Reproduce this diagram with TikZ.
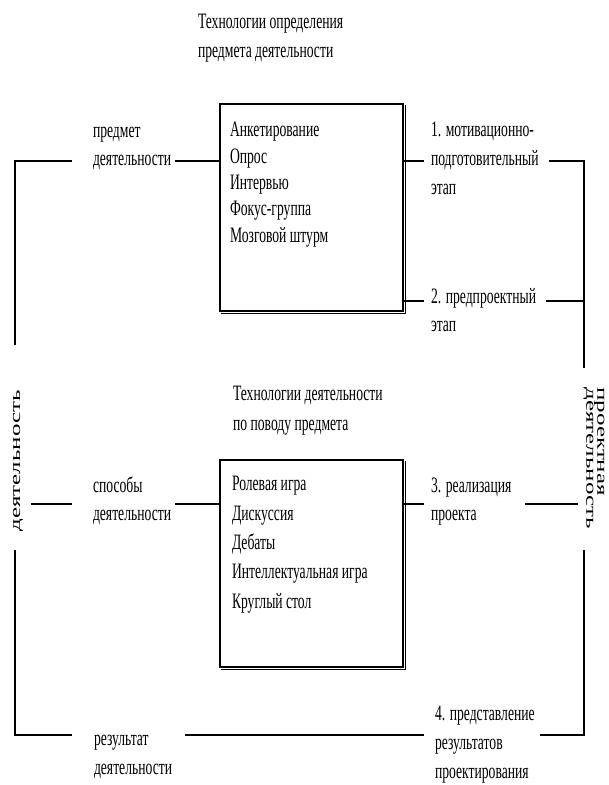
\documentclass[tikz,border=0pt]{standalone}
\usepackage{fontspec}
\usepackage{graphicx}
\setmainfont{Liberation Serif}[FakeStretch=0.62]
\newfontfamily\sidefont{Liberation Serif}
\begin{document}
\begin{tikzpicture}[x=1pt, y=-1pt, line width=2pt,
    txt/.style={anchor=base west, inner sep=0pt, align=left, font=\fontsize{22}{28}\selectfont},
    techbox/.style={draw, anchor=north west, minimum width=183pt, minimum height=207pt, inner sep=0pt},
    side/.style={inner sep=0pt, align=left, font=\sidefont\fontsize{25}{11}\selectfont}]
    \useasboundingbox (0,0) rectangle (609,785);
    % titles over the boxes (anchored at the last line)
    \node[txt, font=\fontsize{22}{29}\selectfont] (title1) at (197,57) {Технологии определения\\предмета деятельности};
    \node[txt, font=\fontsize{22}{30}\selectfont] (title2) at (232,430) {Технологии деятельности\\ по поводу предмета};
    % the two boxes, with a heavier lower right edge
    \node[techbox] (box1) at (219,103) {};
    \node[techbox] (box2) at (219,459) {};
    \foreach \b in {box1,box2}
        \draw[line width=1.5pt] ([shift={(1.5pt,-1.5pt)}]\b.south west) -- ([shift={(1.5pt,-1.5pt)}]\b.south east) -- ([shift={(1.5pt,-1.5pt)}]\b.north east);
    \node[txt, font=\fontsize{22}{26.3}\selectfont] (list1) at (229,242) {Анкетирование\\Опрос\\Интервью\\Фокус-группа\\Мозговой штурм};
    \node[txt, font=\fontsize{22}{29.3}\selectfont] (list2) at (231,608) {Ролевая игра\\Дискуссия\\Дебаты\\Интеллектуальная игра\\Круглый стол};
    % left labels
    \node[txt] (pred) at (92,165) {предмет\\деятельности};
    \node[txt] (sposob) at (92,520) {способы\\деятельности};
    \node[txt, font=\fontsize{22}{29}\selectfont] (rezult) at (93,774) {результат\\деятельности};
    % stages
    \node[txt, font=\fontsize{22}{29}\selectfont] (etap1) at (430,194) {1. мотивационно-\\подготовительный\\этап};
    \node[txt] (etap2) at (430,331) {2. предпроектный\\этап};
    \node[txt] (etap3) at (430,520) {3. реализация\\проекта};
    \node[txt, font=\fontsize{22}{29}\selectfont] (etap4) at (434,778) {4. представление\\результатов\\проектирования};
    % side captions
    \node[side, rotate=90] (deyat) at (18,461) {\scalebox{1}[0.6]{деятельность}};
    \node[side, rotate=-90] (proekt) at (594,458) {\scalebox{1}[0.6]{проектная}\\\scalebox{1}[0.6]{деятельность}};
    \path (0,161) coordinate (row1) (0,301) coordinate (row2) (0,504) coordinate (row3) (0,735) coordinate (row4);
    \coordinate (lt) at (15,161);
    \coordinate (lb) at (15,735);
    \coordinate (rt) at (583.5,161);
    \coordinate (rb) at (583.5,735);
    % left frame
    \draw ([xshift=-20pt]pred.west |- row1) -- (lt) -- (15,345);
    \draw (15,550) -- (lb) -- ([xshift=-21pt]rezult.west |- row4);
    \draw ([xshift=7pt]deyat.south |- row3) -- ([xshift=-20pt]sposob.west |- row3);
    % to and from the boxes
    \draw ([xshift=3pt]pred.east |- row1) -- (box1.west |- row1);
    \draw ([xshift=3pt]sposob.east |- row3) -- (box2.west |- row3);
    \draw (box1.east |- row1) -- ([xshift=-6pt]etap1.west |- row1);
    \draw (box1.east |- row2) -- ([xshift=-6pt]etap2.west |- row2);
    \draw (box2.east |- row3) -- ([xshift=-6pt]etap3.west |- row3);
    \draw ([xshift=12pt]rezult.east |- row4) -- ([xshift=-10pt]etap4.west |- row4);
    % right frame
    \draw ([xshift=9pt]etap1.east |- row1) -- (rt) -- (583.5,368);
    \draw ([xshift=9pt]etap2.east |- row2) -- (rt |- row2);
    \draw ([xshift=13pt]etap3.east |- row3) -- ([xshift=-5pt]proekt.south |- row3);
    \draw ([xshift=4pt]etap4.east |- row4) -- (rb) -- (583.5,550);
\end{tikzpicture}
\end{document}
